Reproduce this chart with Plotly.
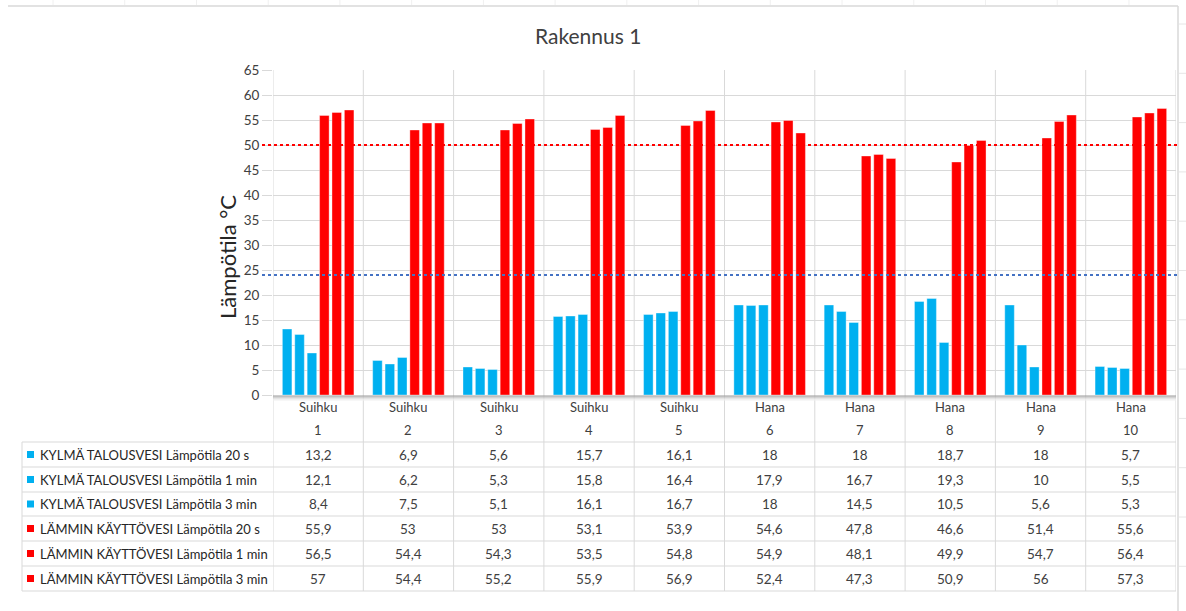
import plotly.graph_objects as go

# ---- data -------------------------------------------------------------
point_types = ["Suihku", "Suihku", "Suihku", "Suihku", "Suihku",
               "Hana", "Hana", "Hana", "Hana", "Hana"]
point_numbers = ["1", "2", "3", "4", "5", "6", "7", "8", "9", "10"]

cold_20s = [13.2, 6.9, 5.6, 15.7, 16.1, 18, 18, 18.7, 18, 5.7]
cold_1min = [12.1, 6.2, 5.3, 15.8, 16.4, 17.9, 16.7, 19.3, 10, 5.5]
cold_3min = [8.4, 7.5, 5.1, 16.1, 16.7, 18, 14.5, 10.5, 5.6, 5.3]
hot_20s = [55.9, 53, 53, 53.1, 53.9, 54.6, 47.8, 46.6, 51.4, 55.6]
hot_1min = [56.5, 54.4, 54.3, 53.5, 54.8, 54.9, 48.1, 49.9, 54.7, 56.4]
hot_3min = [57, 54.4, 55.2, 55.9, 56.9, 52.4, 47.3, 50.9, 56, 57.3]

series_names = [
    "KYLMÄ TALOUSVESI Lämpötila 20 s",
    "KYLMÄ TALOUSVESI Lämpötila 1 min",
    "KYLMÄ TALOUSVESI Lämpötila 3 min",
    "LÄMMIN KÄYTTÖVESI Lämpötila 20 s",
    "LÄMMIN KÄYTTÖVESI Lämpötila 1 min",
    "LÄMMIN KÄYTTÖVESI Lämpötila 3 min",
]
series_values = [cold_20s, cold_1min, cold_3min, hot_20s, hot_1min, hot_3min]

hot_limit = 50    # hot water reference level
cold_limit = 24   # cold water reference level

# ---- styling ----------------------------------------------------------
W, H = 1186, 611
BLUE = "#00B0F0"
RED = "#FF0000"
GRID = "#D9D9D9"
TXT = "#404040"
FONT = "Lato"
series_colors = [BLUE, BLUE, BLUE, RED, RED, RED]

PLOT_L, PLOT_R, PLOT_T, PLOT_B = 273, 1176, 70, 395
TABLE_L, TABLE_B = 22, 591
row_lines = [442, 467, 492, 516, 541, 566, 591]


def px(x):
    return x / W


def py(y):
    return 1 - y / H


def fmt(v):
    return f"{v:g}".replace(".", ",")


def label(x, y, text, xref="paper", size=13, color=TXT, xanchor="center", **kw):
    return dict(x=x, y=y, xref=xref, yref="paper", text=text, showarrow=False,
                xanchor=xanchor, yanchor="middle",
                font=dict(family=FONT, size=size, color=color), **kw)


cats = list(range(len(point_numbers)))

fig = go.Figure()
for name, vals, col in zip(series_names, series_values, series_colors):
    fig.add_trace(go.Bar(x=cats, y=vals, name=name,
                         marker=dict(color=col, line=dict(width=0.6, color="rgba(255,255,255,0.6)")),
                         showlegend=False))

shapes = []
annotations = []

# reference levels
for level, col in ((hot_limit, RED), (cold_limit, "#4472C4")):
    shapes.append(dict(type="line", xref="paper", yref="y", x0=px(262), x1=px(1177),
                       y0=level, y1=level, line=dict(color=col, width=2, dash="dot"), layer="above"))

# soft shadow below the plot area
for i, c in enumerate(["#9a9a9a", "#b4b4b4", "#cccccc", "#e2e2e2", "#f0f0f0"]):
    yy = PLOT_B + 1 + i
    shapes.append(dict(type="line", xref="paper", yref="paper", x0=px(PLOT_L), x1=px(PLOT_R),
                       y0=py(yy), y1=py(yy), line=dict(color=c, width=1), layer="above"))

# vertical category separators running through the data table
for k in range(len(cats) + 1):
    xv = k - 0.5
    shapes.append(dict(type="line", xref="x", yref="paper", x0=xv, x1=xv,
                       y0=py(PLOT_T), y1=py(TABLE_B), line=dict(color=GRID, width=1), layer="below"))

# horizontal table rules
for yl in row_lines:
    shapes.append(dict(type="line", xref="paper", yref="paper", x0=px(TABLE_L), x1=px(PLOT_R),
                       y0=py(yl), y1=py(yl), line=dict(color=GRID, width=1)))
shapes.append(dict(type="line", xref="paper", yref="paper", x0=px(TABLE_L), x1=px(TABLE_L),
                   y0=py(row_lines[0]), y1=py(TABLE_B), line=dict(color=GRID, width=1)))

# chart frame and surrounding sheet cell lines
shapes.append(dict(type="line", xref="paper", yref="paper", x0=px(8), x1=px(1178),
                   y0=py(6), y1=py(6), line=dict(color="#D9D9D9", width=1.5)))
shapes.append(dict(type="line", xref="paper", yref="paper", x0=px(1178), x1=px(1178),
                   y0=py(6), y1=py(611), line=dict(color="#D9D9D9", width=1.5)))
for i in range(16):
    xt = 53 + i * 71.73
    shapes.append(dict(type="line", xref="paper", yref="paper", x0=px(xt), x1=px(xt),
                       y0=py(0), y1=py(5), line=dict(color="#F0F0F0", width=1)))
for i in range(12):
    yt = 24 + i * 49.3
    shapes.append(dict(type="line", xref="paper", yref="paper", x0=px(1179), x1=px(1186),
                       y0=py(yt), y1=py(yt), line=dict(color="#E6E6E6", width=1)))

# category header rows
row_centres = [454.5, 479.5, 504, 528.5, 553.5, 578.5]
for c in cats:
    annotations.append(label(c, py(407), point_types[c], xref="x"))
    annotations.append(label(c, py(430), point_numbers[c], xref="x"))

# data table body with legend keys
for r, (name, vals, col) in enumerate(zip(series_names, series_values, series_colors)):
    yc = row_centres[r]
    shapes.append(dict(type="rect", xref="paper", yref="paper", x0=px(27), x1=px(34),
                       y0=py(yc + 3.5), y1=py(yc - 3.5), fillcolor=col, line=dict(width=0)))
    annotations.append(label(px(38), py(yc), name, xanchor="left", size=13, color="#262626"))
    for c in cats:
        annotations.append(label(c, py(yc), fmt(vals[c]), xref="x", size=13.5))

# titles
annotations.append(label(px(588), py(35), "Rakennus 1", size=21))
annotations.append(label(px(228), py(257), "Lämpötila °C", size=22, color="#262626", textangle=-90))

fig.update_layout(
    width=W, height=H,
    margin=dict(l=0, r=0, t=0, b=0, autoexpand=False),
    paper_bgcolor="white", plot_bgcolor="white",
    barmode="group", bargap=0.176, bargroupgap=0.23,
    shapes=shapes, annotations=annotations,
    xaxis=dict(domain=[px(PLOT_L), px(PLOT_R)], range=[-0.5, len(cats) - 0.5],
               showticklabels=False, showgrid=False, zeroline=False, ticks="",
               automargin=False),
    yaxis=dict(domain=[py(PLOT_B), py(PLOT_T)], range=[0, 65], dtick=5,
               gridcolor=GRID, gridwidth=1, zeroline=False,
               ticks="outside", ticklen=10, tickcolor=GRID, automargin=False,
               tickfont=dict(family=FONT, size=13.5, color=TXT)),
)

fig.write_html("out.html")
